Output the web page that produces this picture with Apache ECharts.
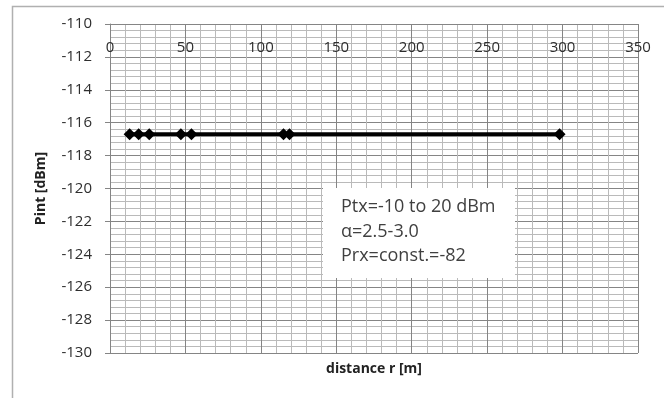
<!DOCTYPE html>
<html>
<head>
<meta charset="utf-8">
<script src="https://cdn.jsdelivr.net/npm/echarts@6/dist/echarts.min.js"></script>
<style>
  html, body { margin: 0; padding: 0; background: #fff; }
  #chart { width: 664px; height: 398px; }
</style>
</head>
<body>
<div id="chart"></div>
<script>
// distance r [m] and interference power [dBm]
var distances = [13, 19, 26, 47, 54, 115, 119, 298];
var pint = [-116.7, -116.7, -116.7, -116.7, -116.7, -116.7, -116.7, -116.7];
var noteLines = ["Ptx=-10 to 20 dBm", "\u03b1=2.5-3.0", "Prx=const.=-82"];

var points = distances.map(function (d, i) { return [d, pint[i]]; });
var chart = echarts.init(document.getElementById("chart"));

chart.setOption({
  animation: false,
  textStyle: { fontFamily: "Open Sans" },
  grid: { left: 110, top: 24, right: 26, bottom: 45, show: false },
  xAxis: {
    type: "value",
    min: 0,
    max: 350,
    interval: 50,
    position: "top",
    name: "distance r [m]",
    nameLocation: "middle",
    nameGap: -352,
    nameTextStyle: { fontWeight: "bold", fontSize: 14, color: "#222" },
    axisLine: { show: true, onZero: false, lineStyle: { color: "#858585" } },
    axisTick: { show: false },
    axisLabel: { inside: true, margin: 16, fontSize: 15, color: "#2e2e2e" },
    splitLine: { show: true, lineStyle: { color: "#858585", width: 1 } },
    minorTick: { show: false, splitNumber: 5 },
    minorSplitLine: { show: true, lineStyle: { color: "#bababa", width: 1 } }
  },
  yAxis: {
    type: "value",
    min: -130,
    max: -110,
    interval: 2,
    name: "Pint [dBm]",
    nameLocation: "middle",
    nameGap: 62,
    nameRotate: 90,
    nameTextStyle: { fontWeight: "bold", fontSize: 14, color: "#222" },
    axisLine: { show: true, lineStyle: { color: "#858585" } },
    axisTick: { show: true, length: 5, lineStyle: { color: "#858585" } },
    axisLabel: { margin: 18, fontSize: 15, color: "#2e2e2e" },
    splitLine: { show: true, lineStyle: { color: "#858585", width: 1 } },
    minorTick: { show: false, splitNumber: 5 },
    minorSplitLine: { show: true, lineStyle: { color: "#bababa", width: 1 } }
  },
  series: [{
    type: "line",
    data: points,
    symbol: "diamond",
    symbolSize: 12,
    showSymbol: true,
    lineStyle: { color: "#000", width: 4 },
    itemStyle: { color: "#000" },
    z: 5
  }],
  graphic: [
    {
      type: "rect",
      left: 10, top: 4,
      shape: { width: 700, height: 500 },
      style: { fill: "none", stroke: "#b0b0b0", lineWidth: 1.5 },
      silent: true
    },
    {
      type: "group",
      left: 323, top: 188,
      children: [
        { type: "rect", z: 100, shape: { width: 192, height: 90 }, style: { fill: "#fff" } },
        { type: "text", z: 101, x: 18, y: 10, style: { text: noteLines[0], font: "18px 'Open Sans'", fill: "#404040" } },
        { type: "text", z: 101, x: 18, y: 35, style: { text: noteLines[1], font: "18px 'Open Sans'", fill: "#404040" } },
        { type: "text", z: 101, x: 18, y: 59, style: { text: noteLines[2], font: "18px 'Open Sans'", fill: "#404040" } }
      ]
    }
  ]
});
</script>
</body>
</html>
